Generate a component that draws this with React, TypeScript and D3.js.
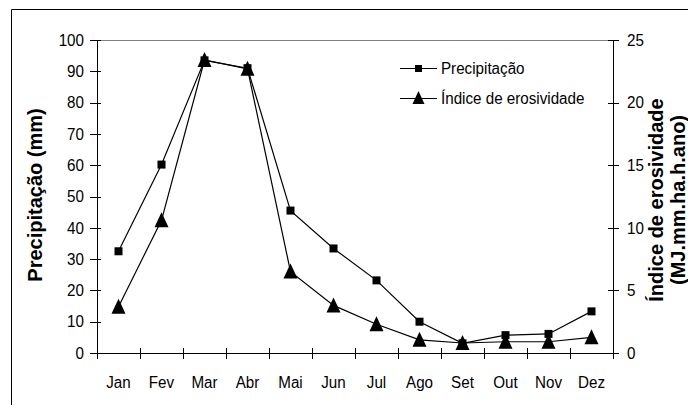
import React from "react";
import * as d3 from "d3";

const months = ["Jan", "Fev", "Mar", "Abr", "Mai", "Jun", "Jul", "Ago", "Set", "Out", "Nov", "Dez"];
const precipitacao = [32.5, 60.2, 93.5, 91, 45.5, 33.4, 23.2, 10, 3.1, 5.7, 6.1, 13.3];
const erosividade = [3.7, 10.6, 23.4, 22.7, 6.5, 3.8, 2.3, 1.05, 0.8, 0.9, 0.9, 1.25];
const leftTicks = [0, 10, 20, 30, 40, 50, 60, 70, 80, 90, 100];
const rightTicks = [0, 5, 10, 15, 20, 25];
const legendLabels = ["Precipitação", "Índice de erosividade"];
const leftTitle = "Precipitação (mm)";
const rightTitle1 = "Índice de erosividade";
const rightTitle2 = "(MJ.mm.ha.h.ano)";

const W = 688;
const H = 405;
const L = 97, R = 613, T = 40, B = 353;
const FONT = "Liberation Sans, Arial, sans-serif";

function tri(cx: number, cy: number, s: number) {
  const h = s;
  return `M${cx},${cy - h / 2 - 1}L${cx + s / 2},${cy + h / 2}L${cx - s / 2},${cy + h / 2}Z`;
}

function Label(props: { x: number; y: number; anchor?: string; children: React.ReactNode }) {
  return (
    <text
      transform={`translate(${props.x},${props.y}) scale(1,1.08)`}
      textAnchor={props.anchor || "start"}
      dominantBaseline="central"
      fontFamily={FONT}
      fontSize={15.2}
      fill="#000"
    >
      {props.children}
    </text>
  );
}

export default function App() {
  const x = d3.scaleBand<string>().domain(months).range([L, R]).padding(0);
  const yL = d3.scaleLinear().domain([0, 100]).range([B, T]);
  const yR = d3.scaleLinear().domain([0, 25]).range([B, T]);
  const cx = (m: string) => (x(m) as number) + x.bandwidth() / 2;

  const lineL = d3.line<number>().x((_, i) => cx(months[i])).y((d) => yL(d));
  const lineR = d3.line<number>().x((_, i) => cx(months[i])).y((d) => yR(d));

  const bounds = months.map((m) => x(m) as number).concat([R]);

  return (
    <svg width={W} height={H} style={{ position: "absolute", left: 0, top: 0, display: "block" }}>
      <rect x={0} y={0} width={W} height={H} fill="#fff" />
      <line x1={11.5} y1={9.5} x2={W} y2={9.5} stroke="#000" strokeWidth={1} />
      <line x1={11.5} y1={9.5} x2={11.5} y2={H} stroke="#000" strokeWidth={1} />

      {/* plot top border */}
      <line x1={L} y1={T + 0.5} x2={R} y2={T + 0.5} stroke="#808080" strokeWidth={1} />

      {/* axes */}
      <line x1={L + 0.5} y1={T} x2={L + 0.5} y2={B} stroke="#000" />
      <line x1={R + 0.5} y1={T} x2={R + 0.5} y2={B} stroke="#000" />
      <line x1={L} y1={B + 0.5} x2={R} y2={B + 0.5} stroke="#000" />

      {leftTicks.map((t) => (
        <g key={"l" + t}>
          <line x1={L - 7} x2={L + 4} y1={Math.round(yL(t)) + 0.5} y2={Math.round(yL(t)) + 0.5} stroke="#000" />
          <Label x={84} y={yL(t)} anchor="end">{t}</Label>
        </g>
      ))}
      {rightTicks.map((t) => (
        <g key={"r" + t}>
          <line x1={R - 5} x2={R + 6} y1={Math.round(yR(t)) + 0.5} y2={Math.round(yR(t)) + 0.5} stroke="#000" />
          <Label x={627} y={yR(t)}>{t}</Label>
        </g>
      ))}
      {bounds.map((b, i) => (
        <line key={"x" + i} x1={Math.round(b) + 0.5} x2={Math.round(b) + 0.5} y1={B - 5} y2={B + 6} stroke="#000" />
      ))}
      {months.map((m) => (
        <Label key={m} x={cx(m)} y={382} anchor="middle">{m}</Label>
      ))}

      {/* series */}
      <path d={lineL(precipitacao) || ""} fill="none" stroke="#000" strokeWidth={1.2} />
      <path d={lineR(erosividade) || ""} fill="none" stroke="#000" strokeWidth={1.2} />
      {precipitacao.map((v, i) => (
        <rect key={"p" + i} x={cx(months[i]) - 4} y={yL(v) - 4} width={8} height={8} fill="#000" />
      ))}
      {erosividade.map((v, i) => (
        <path key={"e" + i} d={tri(cx(months[i]), yR(v), 14)} fill="#000" />
      ))}

      {/* legend */}
      <line x1={400} x2={437} y1={68.5} y2={68.5} stroke="#000" strokeWidth={1} />
      <rect x={415} y={65} width={7} height={7} fill="#000" />
      <Label x={441} y={68}>{legendLabels[0]}</Label>
      <line x1={400} x2={437} y1={98.5} y2={98.5} stroke="#000" strokeWidth={1} />
      <path d={tri(418.5, 98, 12)} fill="#000" />
      <Label x={441} y={98}>{legendLabels[1]}</Label>

      {/* axis titles */}
      <text
        transform={`translate(35,195) rotate(-90)`}
        textAnchor="middle"
        dominantBaseline="central"
        fontFamily={FONT}
        fontSize={20}
        fontWeight="bold"
        fill="#000"
      >
        {leftTitle}
      </text>
      <text
        transform={`translate(656,200) rotate(-90)`}
        textAnchor="middle"
        dominantBaseline="central"
        fontFamily={FONT}
        fontSize={20}
        fontWeight="bold"
        fill="#000"
      >
        {rightTitle1}
      </text>
      <text
        transform={`translate(678,200) rotate(-90)`}
        textAnchor="middle"
        dominantBaseline="central"
        fontFamily={FONT}
        fontSize={20}
        fontWeight="bold"
        fill="#000"
      >
        {rightTitle2}
      </text>
    </svg>
  );
}
